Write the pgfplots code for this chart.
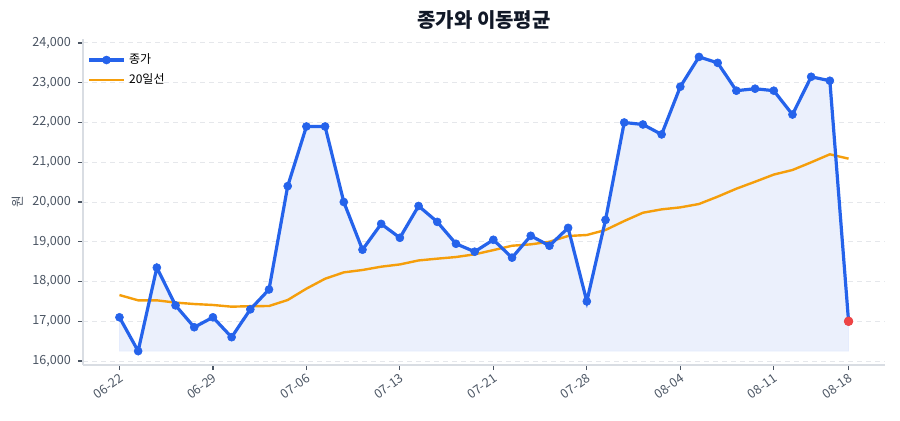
\documentclass[border=0pt]{standalone}
\usepackage{fontspec}
\setmainfont{Noto Sans CJK KR}
\usepackage{pgfplots}
\pgfplotsset{compat=1.18}
\usepackage{pgfplotstable}

\definecolor{lineblue}{HTML}{2563EB}
\definecolor{maorange}{HTML}{F59E0B}
\definecolor{lastred}{HTML}{EF4444}
\definecolor{areablue}{HTML}{EBF0FC}
\definecolor{spine}{HTML}{D9DDE3}
\definecolor{gridc}{HTML}{E5E7EB}
\definecolor{ticktxt}{HTML}{4B5563}
\definecolor{titletxt}{HTML}{111827}

% idx close ma20
\pgfplotstableread{
idx close ma
0  17100 17660
1  16250 17527
2  18350 17527
3  17400 17470
4  16850 17434
5  17100 17410
6  16600 17367
7  17300 17380
8  17800 17384
9  20400 17535
10 21900 17820
11 21900 18070
12 20000 18230
13 18800 18290
14 19450 18373
15 19100 18430
16 19900 18530
17 19500 18575
18 18950 18616
19 18750 18684
20 19050 18790
21 18600 18900
22 19150 18935
23 18900 19000
24 19350 19145
25 17500 19170
26 19550 19296
27 22000 19522
28 21950 19730
29 21700 19815
30 22900 19865
31 23650 19950
32 23500 20135
33 22800 20335
34 22850 20510
35 22800 20690
36 22200 20805
37 23150 20998
38 23050 21200
39 17000 21090
}\prices

\begin{document}
\begin{tikzpicture}
\begin{axis}[
  scale only axis,
  width=401pt, height=163pt,
  xmin=-1.95, xmax=40.95,
  ymin=15900, ymax=24100,
  axis lines*=left,
  axis line style={spine, line width=1pt},
  xtick={0,5,10,15,20,25,30,35,39},
  xticklabels={06-22,06-29,07-06,07-13,07-21,07-28,08-04,08-11,08-18},
  ytick={16000,17000,...,24000},
  tick align=outside,
  major tick length=2.5pt,
  tick style={ticktxt, line width=0.6pt},
  ymajorgrids,
  grid style={gridc, line width=0.5pt, dash pattern=on 2.5pt off 2pt},
  scaled y ticks=false,
  /pgf/number format/assume math mode=true,
  yticklabel style={/pgf/number format/1000 sep={,}, font=\fontsize{6.3}{7}\selectfont, text=ticktxt},
  xticklabel style={font=\fontsize{6.3}{7}\selectfont, text=ticktxt, rotate=35, anchor=north east, inner sep=1pt},
  ylabel={원},
  every axis y label/.style={at={(rel axis cs:0,0.5)}, xshift=-32.5pt, rotate=90, anchor=center, font=\fontsize{6.3}{7}\selectfont, text=ticktxt},
  title={종가와 이동평균},
  every axis title/.style={at={(rel axis cs:0.5,1)}, anchor=center, yshift=9.5pt, font=\bfseries\fontsize{10}{12}\selectfont, text=titletxt},
  legend style={at={(0.003,0.975)}, anchor=north west, draw=none, fill=none,
    font=\fontsize{6}{7}\selectfont, row sep=-0.5pt, inner sep=1pt},
  legend cell align=left,
  reverse legend,
  clip=false,
]
\addplot [fill=areablue, draw=lineblue!12, line width=0.4pt, forget plot]
  coordinates {(0,16250)(0,17100)(1,16250)(2,18350)(3,17400)(4,16850)(5,17100)(6,16600)(7,17300)(8,17800)(9,20400)
  (10,21900)(11,21900)(12,20000)(13,18800)(14,19450)(15,19100)(16,19900)(17,19500)(18,18950)(19,18750)
  (20,19050)(21,18600)(22,19150)(23,18900)(24,19350)(25,17500)(26,19550)(27,22000)(28,21950)(29,21700)
  (30,22900)(31,23650)(32,23500)(33,22800)(34,22850)(35,22800)(36,22200)(37,23150)(38,23050)(39,17000)(39,16250)} -- cycle;
\addplot [maorange, line width=1.2pt, no markers] table [x=idx, y=ma] {\prices};
\addlegendentry{20일선}
\addplot [lineblue, line width=1.6pt, mark=*, mark size=2pt, mark options={solid, fill=lineblue, draw=lineblue, line width=0.3pt}] table [x=idx, y=close] {\prices};
\addlegendentry{종가}
\addplot [only marks, mark=*, mark size=2.2pt, mark options={solid, fill=lastred, draw=lastred, line width=0.3pt}, forget plot] coordinates {(39,17000)};
\coordinate (ll) at (rel axis cs:0,0);
\end{axis}
\pgfresetboundingbox
\path (ll) ++(-41.5pt,-27.5pt) rectangle ++(450pt,210pt);
\end{tikzpicture}
\end{document}
